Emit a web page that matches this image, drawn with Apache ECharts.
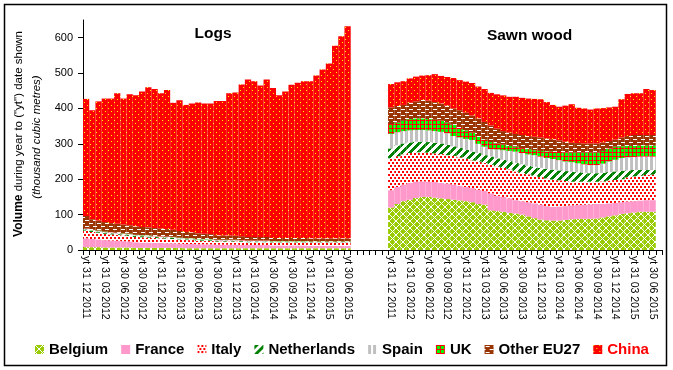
<!DOCTYPE html>
<html><head><meta charset="utf-8">
<script src="https://cdn.jsdelivr.net/npm/echarts@6/dist/echarts.min.js"></script>
<style>html,body{margin:0;padding:0;background:#fff}#c{width:673px;height:370px}</style>
</head><body><div id="c"></div><script>
const quarterLabels = ['yt 31 12 2011','yt 31 03 2012','yt 30 06 2012','yt 30 09 2012','yt 31 12 2012','yt 31 03 2013','yt 30 06 2013','yt 30 09 2013','yt 31 12 2013','yt 31 03 2014','yt 30 06 2014','yt 30 09 2014','yt 31 12 2014','yt 31 03 2015','yt 30 06 2015'];
const seriesNames = ['Belgium','France','Italy','Netherlands','Spain','UK','Other EU27','China'];
const panelTitles = ['Logs','Sawn wood'];

const logsBelgium = [8,8,8,7,7,7,7,7,6,6,6,6,6,6,6,6,5,5,5,5,5,5,5,5,5,5,5,5,5,5,5,5,5,5,5,5,5,5,5,5,5,5,5];
const logsFrance = [25,23,22,21,20,19,18,17,16,15,15,14,14,13,13,12,12,12,11,11,11,10,10,10,10,9,9,9,9,9,8,8,8,8,8,8,7,7,7,7,7,7,7];
const logsItaly = [22,20,19,18,17,17,16,16,15,15,14,14,13,13,12,12,11,11,10,10,10,9,9,9,9,9,8,8,8,8,8,8,8,8,8,8,8,8,8,8,8,8,8];
const logsNetherlands = [3,3,3,3,3,3,3,3,3,3,3,3,3,3,3,2,2,2,2,2,2,2,2,2,2,2,2,2,2,2,1,1,1,1,1,1,1,1,1,1,1,1,1];
const logsSpain = [2,2,2,2,2,2,2,2,2,2,2,2,2,2,2,2,2,2,2,2,2,2,2,2,2,2,2,2,2,2,2,2,2,2,2,2,2,2,2,2,2,2,2];
const logsUK = [1,1,1,1,1,1,1,1,1,1,1,1,1,1,1,1,1,1,1,1,1,1,1,1,1,1,1,1,1,1,1,1,1,1,1,1,1,1,1,1,1,1,1];
const logsOther = [35,30,28,27,26,25,25,24,24,23,23,22,22,21,20,19,18,17,16,15,14,13,12,12,11,11,10,10,10,10,9,9,9,9,9,9,9,9,9,9,9,9,9];
const logsChina = [331,308,337,349,352,369,356,370,370,383,396,393,382,393,359,369,359,364,370,368,369,379,380,402,405,429,445,440,428,445,424,403,414,433,439,443,444,460,477,494,544,571,599];

const sawnBelgium = [120,130,138,142,147,150,150,148,146,144,142,140,138,135,130,128,112,110,108,105,103,100,95,90,86,84,83,83,85,87,88,88,88,89,92,95,98,102,104,106,108,108,108];
const sawnFrance = [49,48,47,48,46,44,43,44,44,44,43,42,40,40,40,39,48,43,42,41,38,38,40,42,42,40,39,40,39,39,39,40,41,41,39,37,35,33,33,32,32,33,33];
const sawnItaly = [90,87,85,84,83,82,82,81,81,80,81,80,80,78,80,79,81,83,82,82,81,80,79,78,78,78,77,74,71,67,66,65,64,63,63,64,65,65,68,70,70,71,72];
const sawnNetherlands = [28,31,31,30,30,30,30,30,30,29,27,27,25,25,24,22,23,23,23,23,24,24,24,25,26,27,28,28,28,28,27,25,24,24,24,24,24,24,20,18,16,14,13];
const sawnSpain = [41,37,35,34,33,33,33,33,33,33,29,29,31,33,26,24,21,25,27,29,32,32,32,33,32,31,30,29,27,27,25,24,23,23,26,30,33,36,37,37,38,38,38];
const sawnUK = [28,27,29,32,33,33,32,32,32,30,32,27,24,21,20,20,20,17,16,14,14,14,15,14,16,19,21,23,26,27,30,33,35,35,36,37,37,33,32,31,31,31,31];
const sawnOther = [47,47,45,46,48,52,52,50,48,48,46,50,50,48,52,50,47,42,38,38,36,37,37,38,38,36,35,33,30,28,27,26,26,26,24,21,20,25,28,31,30,30,30];
const sawnChina = [66,67,67,69,70,69,72,79,78,81,86,85,88,92,90,93,92,97,101,101,105,105,106,107,108,103,97,95,102,109,100,99,96,99,97,95,93,108,119,118,118,130,127];

const logsData = [logsBelgium,logsFrance,logsItaly,logsNetherlands,logsSpain,logsUK,logsOther,logsChina];
const sawnData = [sawnBelgium,sawnFrance,sawnItaly,sawnNetherlands,sawnSpain,sawnUK,sawnOther,sawnChina];

const GAP = 6, TRAIL = 1, N = 43;
const categories = [], labelFor = [];
function addPanel(p){ for(let m=0;m<N;m++){ categories.push('p'+p+'m'+m); labelFor.push(m%3===0 ? quarterLabels[m/3] : ''); } }
addPanel(0);
for(let g=0;g<GAP;g++){ categories.push('gap'+g); labelFor.push(''); }
addPanel(1);
for(let t=0;t<TRAIL;t++){ categories.push('trail'+t); labelFor.push(''); }

function tile(w,h,bg,fg,test){
  const c=document.createElement('canvas'); c.width=w; c.height=h;
  const ctx=c.getContext('2d'); ctx.fillStyle=bg; ctx.fillRect(0,0,w,h); ctx.fillStyle=fg;
  for(let y=0;y<h;y++) for(let x=0;x<w;x++) if(test(x,y)) ctx.fillRect(x,y,1,1);
  return {image:c, repeat:'repeat'};
}
const fills = [
  tile(7,7,'#99CC00','#ffffff',(x,y)=>(x+y)%7===0||(x-y+7)%7===0),
  '#FF99CC',
  tile(8,6,'#ffffff','#FF0000',(x,y)=>(y<2&&(x%4)<2)||(y>=3&&y<5&&((x+2)%4)<2)),
  tile(8,8,'#ffffff','#008000',(x,y)=>(x+y)%8<4),
  tile(5,1,'#ffffff','#C0C0C0',(x)=>x<3),
  tile(4,4,'#00FF00','#FF0000',(x,y)=>x===0||y===0),
  tile(8,6,'#993300','#ffffff',(x,y)=>(y===1&&x>=1&&x<=4)||(y===4&&(x>=5||x===0))),
  tile(6,6,'#FF0000','#FFFF00',(x,y)=>(x===0&&y===0)||(x===3&&y===3))
];

const FONT = '"Liberation Sans", Arial, sans-serif';
const series = seriesNames.map((name,i)=>{
  const data = [].concat(logsData[i], new Array(GAP).fill(null), sawnData[i], new Array(TRAIL).fill(null));
  return {name, type:'bar', stack:'all', data, barCategoryGap:'0%', barGap:'0%',
    itemStyle:{color:fills[i], borderWidth:0}, emphasis:{disabled:true}};
});

const chart = echarts.init(document.getElementById('c'), null, {renderer:'canvas'});
chart.setOption({
  animation:false,
  textStyle:{fontFamily:FONT},
  grid:{left:83, right:11, top:20, bottom:120, containLabel:false},
  xAxis:{type:'category', data:categories, boundaryGap:true,
    axisLine:{lineStyle:{color:'#000', width:1}},
    axisTick:{show:true, interval:0, length:5, lineStyle:{color:'#000'}},
    axisLabel:{interval:0, rotate:-90, fontSize:10.5, color:'#000', margin:6, fontFamily:FONT,
      padding:[8,0,0,0], formatter:(v,idx)=>labelFor[idx]}},
  yAxis:{type:'value', min:0, max:650, interval:100,
    axisLine:{show:true, lineStyle:{color:'#000'}},
    axisTick:{show:true, length:5, lineStyle:{color:'#000'}},
    splitLine:{show:false},
    axisLabel:{fontSize:11, color:'#000', margin:10, fontFamily:FONT, showMaxLabel:false}},
  legend:{left:30, top:337, itemWidth:9, itemHeight:9, itemGap:13, icon:'rect',
    textStyle:{fontSize:15, fontWeight:'bold', color:'#000', fontFamily:FONT},
    data: seriesNames.map(n=> n==='China' ? {name:n, textStyle:{color:'#FF0000'}} : {name:n})},
  graphic:[
    {type:'rect', shape:{x:4.5,y:4.5,width:662,height:361}, style:{fill:'none', stroke:'#000', lineWidth:1.5}, silent:true},
    {type:'text', x:213, y:34, style:{text:panelTitles[0], font:'bold 15.5px '+FONT, fill:'#000', align:'center', verticalAlign:'middle'}},
    {type:'text', x:529.5, y:35.5, style:{text:panelTitles[1], font:'bold 15.5px '+FONT, fill:'#000', align:'center', verticalAlign:'middle'}},
    {type:'text', x:19, y:134, rotation:Math.PI/2, style:{text:'{b|Volume} during year to ("yt") date shown', font:'11.5px '+FONT, fill:'#000', align:'center', verticalAlign:'middle', rich:{b:{font:'bold 12px '+FONT, fill:'#000'}}}},
    {type:'text', x:36.5, y:137, rotation:Math.PI/2, style:{text:'(thousand cubic metres)', font:'italic 11.5px '+FONT, fill:'#000', align:'center', verticalAlign:'middle'}}
  ],
  series
});
</script></body></html>
